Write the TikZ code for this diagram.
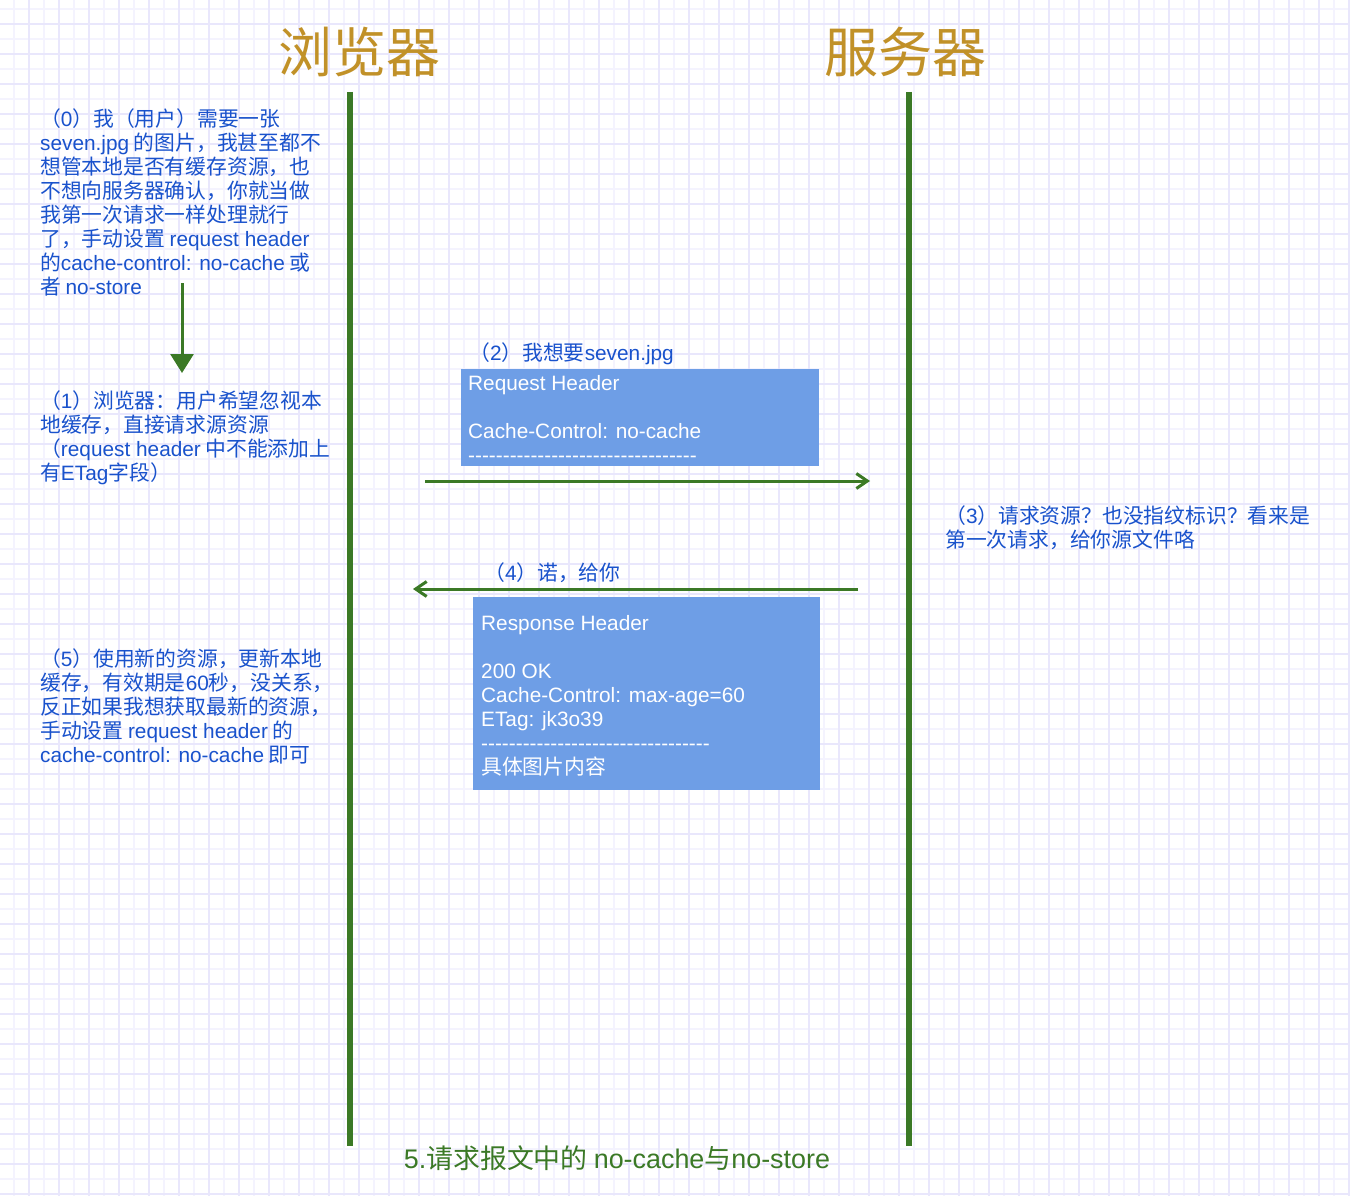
\documentclass[tikz,border=0pt]{standalone}
\usepackage{fontspec}
\setmainfont{Noto Sans CJK SC}
\newfontfamily\lat{Liberation Sans}
\newcommand\en[1]{{\lat #1}}
\usetikzlibrary{arrows.meta}
\definecolor{gridmajor}{RGB}{233,231,252}
\definecolor{gridminor}{RGB}{244,243,254}
\definecolor{lifegreen}{RGB}{59,121,38}
\definecolor{titlegold}{RGB}{193,145,40}
\definecolor{noteblue}{RGB}{25,82,204}
\definecolor{hdrfill}{RGB}{110,158,230}
\begin{document}
\begin{tikzpicture}[x=1pt,y=-1pt,
  note/.style={anchor=base west,inner sep=0,align=left,text=noteblue,font=\fontsize{20.8}{24}\selectfont},
  title/.style={anchor=base,inner sep=0,text=titlegold,font=\fontsize{54}{60}\selectfont},
  hdrbox/.style={anchor=north west,fill=hdrfill,inner sep=0},
  boxtext/.style={anchor=base west,inner sep=0,align=left,text=white,font=\fontsize{20.8}{24}\selectfont\lat},
  lifeline/.style={lifegreen,line width=6},
  msg/.style={lifegreen,line width=3,-{Straight Barb[length=11pt,width=15pt]}}]
\useasboundingbox (0,0) rectangle (1350,1196);
\fill[white] (0,0) rectangle (1350,1196);
% grid paper
\foreach \gx in {14,44,...,1344} \draw[gridminor,line width=1.5] (\gx,0) -- (\gx,1196);
\foreach \gy in {9,39,...,1189} \draw[gridminor,line width=1.5] (0,\gy) -- (1350,\gy);
\foreach \gx in {29,59,...,1349} \draw[gridmajor,line width=2] (\gx,0) -- (\gx,1196);
\foreach \gy in {24,54,...,1194} \draw[gridmajor,line width=2] (0,\gy) -- (1350,\gy);
% titles and lifelines
\node[title] (browser) at (359,73) {浏览器};
\node[title] (server) at (905,73) {服务器};
\coordinate (bTop) at (350,92);
\coordinate (bBot) at (350,1146);
\coordinate (sTop) at (909,92);
\coordinate (sBot) at (909,1146);
\draw[lifeline] (bTop) -- (bBot);
\draw[lifeline] (sTop) -- (sBot);
% browser side notes (base = last line)
\node[note] (askNote) at (40,294) {（\en{0}）我（用户）需要一张\\
\en{seven.jpg} 的图片，我甚至都不\\
想管本地是否有缓存资源，也\\
不想向服务器确认，你就当做\\
我第一次请求一样处理就行\\
了，手动设置 \en{request header}\\
的\en{cache-control: no-cache} 或\\
者 \en{no-store}};
\coordinate (askEnd) at (182,283);
\coordinate (ignoreTop) at (182,373);
\draw[lifegreen,line width=3,-{Triangle[length=19pt,width=23pt]}] (askEnd) -- (ignoreTop);
\node[note] (ignoreNote) at (40,480) {（\en{1}）浏览器：用户希望忽视本\\
地缓存，直接请求源资源\\
（\en{request header} 中不能添加上\\
有\en{ETag}字段）};
\node[note] (updateNote) at (40,762) {（\en{5}）使用新的资源，更新本地\\
缓存，有效期是\en{60}秒，没关系，\\
反正如果我想获取最新的资源，\\
手动设置 \en{request header} 的\\
\en{cache-control: no-cache} 即可};
% request
\node[note] (reqLabel) at (469,360) {（\en{2}）我想要\en{seven.jpg}};
\node[hdrbox,minimum width=358,minimum height=97] (reqBox) at (461,369) {};
\node[boxtext] (reqText) at (468,462) {Request Header\\ \\Cache-Control: no-cache\\
\foreach \d in {1,...,33}{-}};
\coordinate (reqFrom) at (425,481);
\coordinate (reqTo) at (870,481);
\draw[msg] (reqFrom) -- (reqTo);
% server side note
\node[note] (serverNote) at (945,547) {（\en{3}）请求资源？也没指纹标识？看来是\\
第一次请求，给你源文件咯};
% response
\node[note] (respLabel) at (484,580) {（\en{4}）诺，给你};
\coordinate (respFrom) at (858,589);
\coordinate (respTo) at (413,589);
\draw[msg] (respFrom) -- (respTo);
\node[hdrbox,minimum width=347,minimum height=193] (respBox) at (473,597) {};
\node[boxtext] (respText) at (481,774) {Response Header\\ \\200 OK\\
Cache-Control: max-age=60\\ETag: jk3o39\\
\foreach \d in {1,...,33}{-}\\
{\rmfamily 具体图片内容}};
% caption
\node[anchor=base,inner sep=0,text=lifegreen,font=\fontsize{26.9}{32}\selectfont] (caption) at (617,1168) {\en{5.}请求报文中的 \en{no-cache}与\en{no-store}};
\end{tikzpicture}
\end{document}
